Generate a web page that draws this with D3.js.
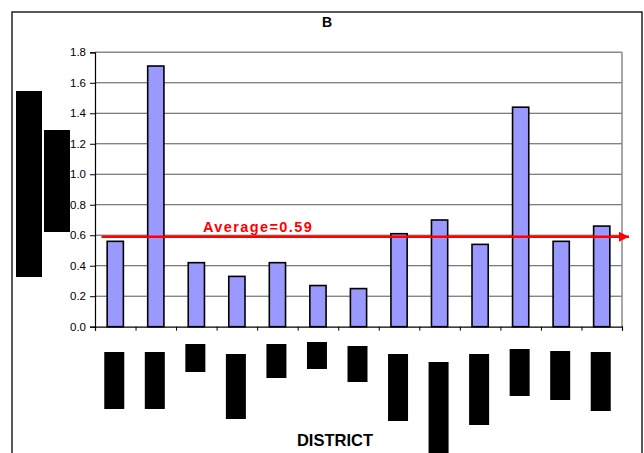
<!DOCTYPE html>
<html>
<head>
<meta charset="utf-8">
<script src="https://cdn.jsdelivr.net/npm/d3@7"></script>
<style>
  html, body { margin: 0; padding: 0; background: #fff; }
  svg { display: block; font-family: "Liberation Sans", Arial, sans-serif; }
</style>
</head>
<body>
<svg id="chart" width="644" height="453"></svg>
<script>
// Ratio per district (13 districts)
const districts = ["D1","D2","D3","D4","D5","D6","D7","D8","D9","D10","D11","D12","D13"];
const ratios = [0.56, 1.71, 0.42, 0.33, 0.42, 0.27, 0.25, 0.61, 0.70, 0.54, 1.44, 0.56, 0.66];
const yTicks = [0.0, 0.2, 0.4, 0.6, 0.8, 1.0, 1.2, 1.4, 1.6, 1.8];
const averageValue = 0.59;
const averageLabel = "Average=0.59";
const chartTitle = "B";
const xTitle = "DISTRICT";

// vertical extent (top, bottom) of the blacked-out district labels
const labelBlocks = [[352,409],[352,409],[344,372],[354,419],[344,378],[342,369],[346,382],
                     [354,421],[362,453],[354,425],[349,396],[351,400],[352,411]];

const svg = d3.select("#chart");
const m = { left: 95, right: 622, top: 52.3, bottom: 326.7 };

// outer frame
svg.append("rect")
  .attr("x", 12).attr("y", 12).attr("width", 630).attr("height", 470)
  .attr("fill", "none").attr("stroke", "#222").attr("stroke-width", 1.5);

const x = d3.scaleBand().domain(districts).range([m.left, m.right])
  .paddingInner(0.6).paddingOuter(0.3);
const xi = d3.scaleLinear().domain([0, districts.length]).range([m.left, m.right]);
const y = d3.scaleLinear().domain([0, 1.8]).range([m.bottom, m.top]);

// gridlines
svg.append("g").selectAll("line").data(yTicks.filter(d => d > 0)).join("line")
  .attr("x1", m.left).attr("x2", m.right)
  .attr("y1", d => y(d)).attr("y2", d => y(d))
  .attr("stroke", d => d === 1.8 ? "#8a8a8a" : "#555")
  .attr("stroke-width", d => d === 1.8 ? 1.5 : 1);

// right plot border
svg.append("line")
  .attr("x1", m.right).attr("x2", m.right).attr("y1", m.top).attr("y2", m.bottom)
  .attr("stroke", "#8a8a8a").attr("stroke-width", 1.5);

// bars
svg.append("g").selectAll("rect").data(ratios).join("rect")
  .attr("x", (d, i) => x(districts[i]))
  .attr("y", d => y(d))
  .attr("width", x.bandwidth())
  .attr("height", d => y(0) - y(d))
  .attr("fill", "#9999ff")
  .attr("stroke", "#000").attr("stroke-width", 1.6);

// y axis
const yAxis = svg.append("g").attr("transform", `translate(${m.left},0)`)
  .call(d3.axisLeft(y).tickValues(yTicks).tickFormat(d3.format(".1f")).tickSize(5).tickPadding(4));
yAxis.select(".domain").attr("stroke", "#000").attr("stroke-width", 1.2);
yAxis.selectAll(".tick line").attr("stroke", "#000");
yAxis.selectAll("text").attr("font-size", 11.5).attr("fill", "#000")
  .attr("font-family", "'Liberation Sans', Arial, sans-serif");

// x axis (category separators)
const xAxis = svg.append("g").attr("transform", `translate(0,${m.bottom})`)
  .call(d3.axisBottom(xi).tickValues(d3.range(0, districts.length + 1)).tickFormat("").tickSize(4));
xAxis.select(".domain").attr("stroke", "#000").attr("stroke-width", 1.2);
xAxis.selectAll(".tick line").attr("stroke", "#000");

// average arrow
const defs = svg.append("defs");
defs.append("marker").attr("id", "arrowHead")
  .attr("viewBox", "0 0 10 10").attr("refX", 10).attr("refY", 5)
  .attr("markerUnits", "userSpaceOnUse")
  .attr("markerWidth", 10).attr("markerHeight", 10).attr("orient", "auto")
  .append("path").attr("d", "M0,0L10,5L0,10Z").attr("fill", "#ff0000");
svg.append("line")
  .attr("x1", 101.5).attr("x2", 629)
  .attr("y1", y(averageValue)).attr("y2", y(averageValue))
  .attr("stroke", "#ff0000").attr("stroke-width", 2.5)
  .attr("marker-end", "url(#arrowHead)");
svg.append("text")
  .attr("x", 203).attr("y", y(averageValue) - 5)
  .attr("font-size", 14.5).attr("font-weight", "bold").attr("fill", "#ff0000")
  .attr("letter-spacing", 1.4)
  .text(averageLabel);

// title
svg.append("text").attr("x", 327).attr("y", 27).attr("text-anchor", "middle")
  .attr("font-size", 14).attr("font-weight", "bold").text(chartTitle);

// axis title
svg.append("text").attr("x", 335).attr("y", 446).attr("text-anchor", "middle")
  .attr("font-size", 16.5).attr("font-weight", "bold").text(xTitle);

// blacked-out district labels
svg.append("g").selectAll("rect").data(labelBlocks).join("rect")
  .attr("x", (d, i) => x(districts[i]) + x.bandwidth() / 2 - 11)
  .attr("y", d => d[0]).attr("width", 20).attr("height", d => d[1] - d[0])
  .attr("fill", "#000");

// blacked-out y axis title
svg.append("rect").attr("x", 16).attr("y", 91).attr("width", 26).attr("height", 186).attr("fill", "#000");
svg.append("rect").attr("x", 44).attr("y", 130).attr("width", 26).attr("height", 102).attr("fill", "#000");
</script>
</body>
</html>
